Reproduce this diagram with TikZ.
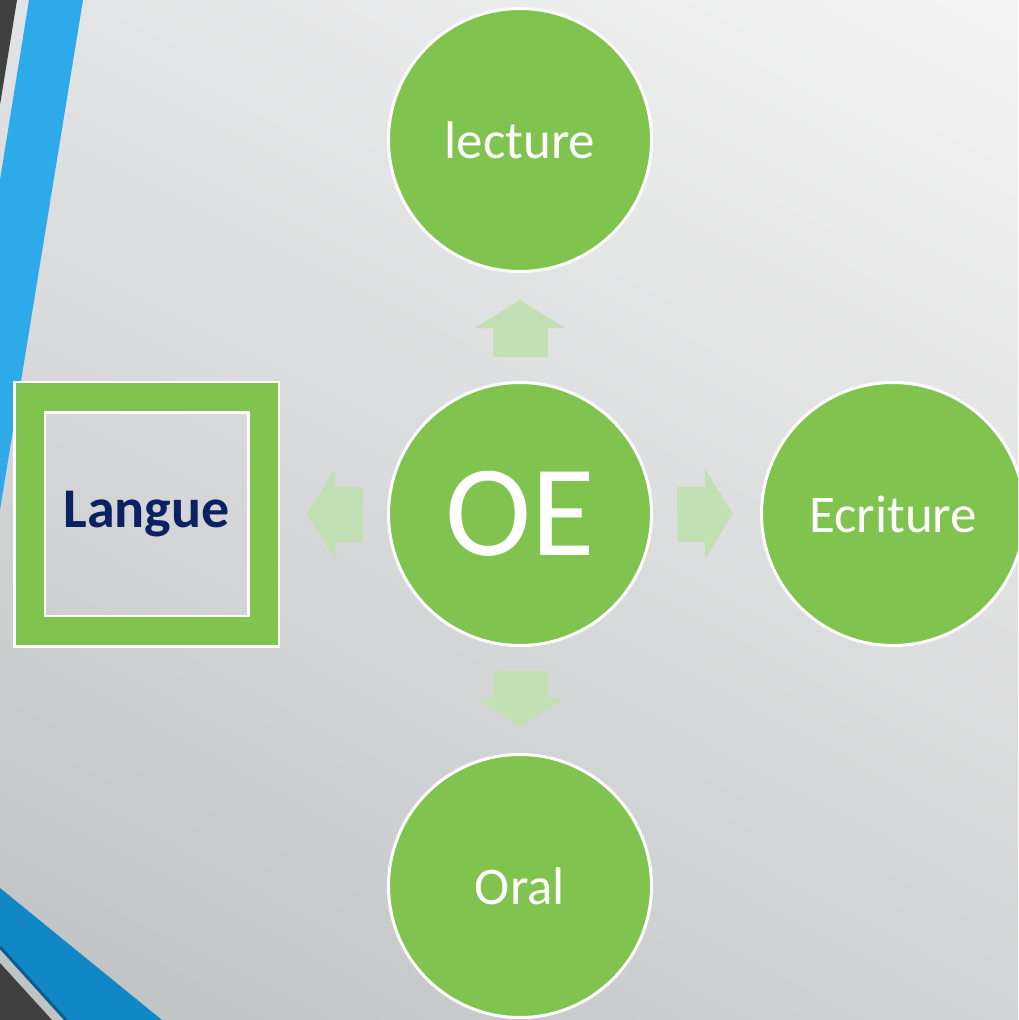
\documentclass[tikz,border=0pt]{standalone}
\usepackage{fontspec}
\setmainfont{Carlito}
\usetikzlibrary{arrows.meta,shadings}
\definecolor{lgreen}{HTML}{80C34F}
\definecolor{pale}{HTML}{C3DFB4}
\definecolor{navy}{HTML}{0B2161}
\definecolor{skyblue}{HTML}{2EAAEA}
\definecolor{deepblue}{HTML}{1287C6}
\definecolor{darkblue}{HTML}{0C5C8C}
\definecolor{dgray}{HTML}{404040}
\definecolor{bgul}{HTML}{E2E3E4}
\definecolor{bgur}{HTML}{F4F4F4}
\definecolor{bgll}{HTML}{BEC2C3}
\definecolor{bglr}{HTML}{D2D3D4}

\begin{document}
\begin{tikzpicture}
  [x=1pt,y=-1pt,
   every node/.style={circle,fill=lgreen,draw=white,line width=3pt,minimum size=263pt,inner sep=0pt,text=white,font=\fontsize{53}{60}\selectfont},
   blk/.style={draw=pale,line width=55pt,-{Triangle[width=90pt,length=28pt,line width=0pt]},shorten <=24pt,shorten >=27pt}]
  \useasboundingbox (0,0) rectangle (1018,1020);
  \clip (0,0) rectangle (1018,1020);
  % background
  \shade[upper left=bgul,upper right=bgur,lower left=bgll,lower right=bglr]
    (0,0) rectangle (1018,1020);
  \fill[dgray] (0,0) -- (17,0) -- (0,105) -- cycle;
  \fill[skyblue] (29,0) -- (83,0) -- (0,510) -- (0,180) -- cycle;
  \fill[deepblue] (0,888) -- (162,1020) -- (66,1020) -- (0,947) -- cycle;
  \draw[darkblue,line width=3pt] (0,947) -- (66,1020);
  \fill[dgray] (0,963) -- (52,1020) -- (0,1020) -- cycle;

  \node (oe) at (520,514) {\fontsize{130}{130}\selectfont OE};
  \node (lec) at (520,140) {lecture};
  \node (ecr) at (893,514) {Ecriture};
  \node (ora) at (520,886) {Oral};
  \node[rectangle,fill=none,line width=2.5pt,double=lgreen,double distance=28pt,minimum size=234pt,outer sep=16.5pt,
        text=navy,font=\fontsize{56}{60}\selectfont\bfseries] (lan) at (146.5,514) {Langue};

  \foreach \to in {lec,ecr,ora,lan}
    \draw[blk] (oe) -- (\to);

\end{tikzpicture}
\end{document}
